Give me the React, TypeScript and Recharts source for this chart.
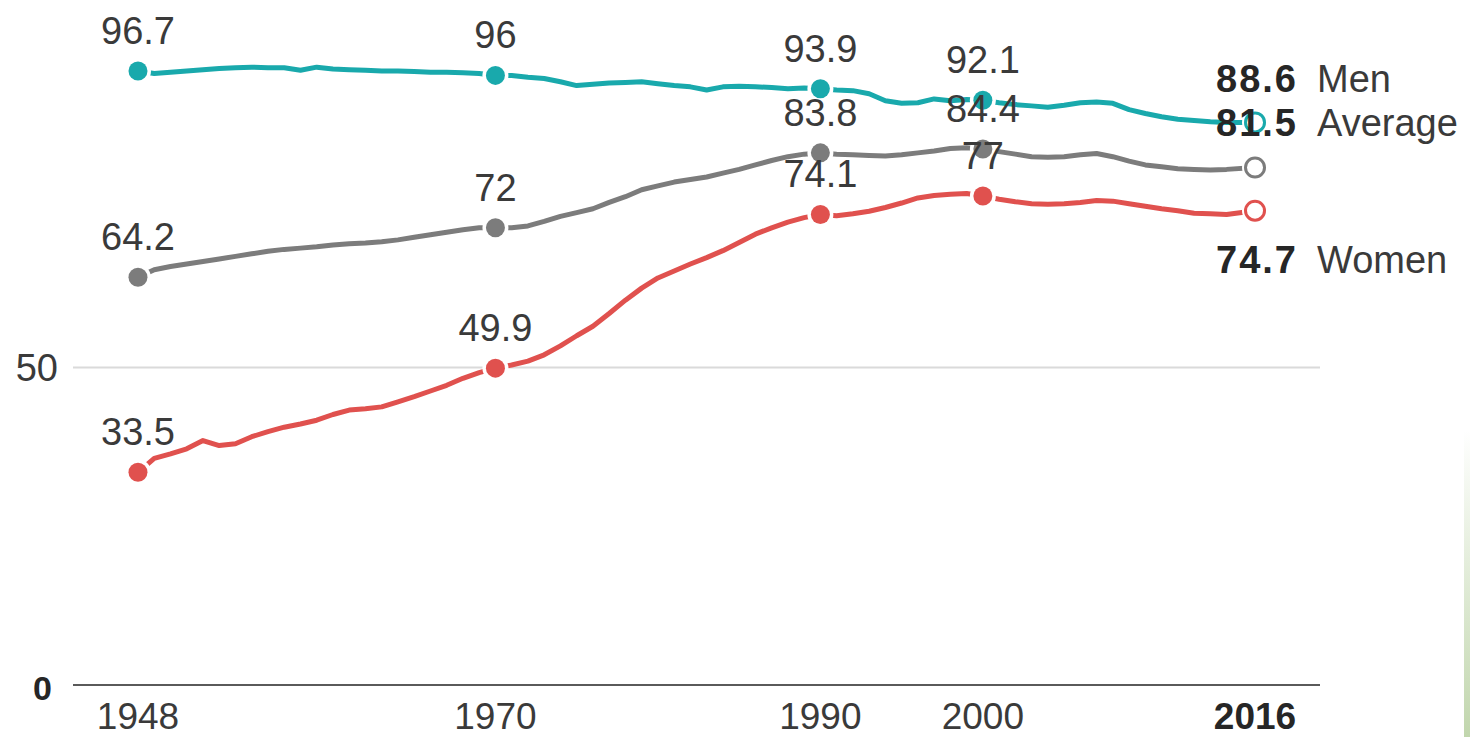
import React from "react";
import { Line, LineChart, ReferenceLine, XAxis, YAxis } from "recharts";

// Share of each group employed, 1948 through the latest month of 2016.
const years = [
  1948, 1949, 1950, 1951, 1952, 1953, 1954, 1955, 1956, 1957,
  1958, 1959, 1960, 1961, 1962, 1963, 1964, 1965, 1966, 1967,
  1968, 1969, 1970, 1971, 1972, 1973, 1974, 1975, 1976, 1977,
  1978, 1979, 1980, 1981, 1982, 1983, 1984, 1985, 1986, 1987,
  1988, 1989, 1990, 1991, 1992, 1993, 1994, 1995, 1996, 1997,
  1998, 1999, 2000, 2001, 2002, 2003, 2004, 2005, 2006, 2007,
  2008, 2009, 2010, 2011, 2012, 2013, 2014, 2015, 2016.75,
];

const men = [
  96.7, 96.3, 96.5, 96.7, 96.9, 97.1, 97.2, 97.3, 97.2, 97.2,
  96.8, 97.3, 97.0, 96.9, 96.8, 96.7, 96.7, 96.6, 96.5, 96.5,
  96.4, 96.3, 96.0, 96.0, 95.7, 95.5, 95.0, 94.4, 94.6, 94.8,
  94.9, 95.0, 94.7, 94.4, 94.2, 93.7, 94.2, 94.3, 94.2, 94.1,
  93.9, 94.0, 93.9, 93.7, 93.6, 93.1, 92.0, 91.6, 91.7, 92.3,
  92.0, 92.2, 92.1, 91.7, 91.4, 91.2, 91.0, 91.3, 91.7, 91.8,
  91.6, 90.6, 90.0, 89.5, 89.1, 88.9, 88.7, 88.6, 88.6,
];

const average = [
  64.2, 65.4, 65.9, 66.3, 66.7, 67.1, 67.5, 67.9, 68.3, 68.6,
  68.8, 69.0, 69.3, 69.5, 69.6, 69.8, 70.1, 70.5, 70.9, 71.3,
  71.7, 72.0, 72.0, 72.0, 72.3, 73.0, 73.8, 74.4, 75.0, 76.0,
  76.9, 78.0, 78.6, 79.2, 79.6, 80.0, 80.6, 81.2, 81.9, 82.6,
  83.2, 83.6, 83.8, 83.6, 83.5, 83.4, 83.3, 83.5, 83.8, 84.1,
  84.5, 84.6, 84.4, 84.0, 83.6, 83.2, 83.1, 83.2, 83.5, 83.7,
  83.2, 82.5, 81.9, 81.6, 81.3, 81.2, 81.1, 81.2, 81.5,
];

const women = [
  33.5, 35.7, 36.4, 37.2, 38.5, 37.7, 38.0, 39.1, 39.9, 40.6,
  41.1, 41.7, 42.6, 43.3, 43.5, 43.8, 44.6, 45.4, 46.3, 47.2,
  48.3, 49.2, 49.9, 50.4, 51.0, 52.0, 53.4, 55.0, 56.5, 58.5,
  60.6, 62.5, 64.1, 65.2, 66.3, 67.3, 68.4, 69.7, 71.0, 72.0,
  72.9, 73.6, 74.1, 73.9, 74.2, 74.6, 75.2, 75.9, 76.7, 77.1,
  77.3, 77.4, 77.0, 76.5, 76.1, 75.8, 75.7, 75.8, 76.0, 76.3,
  76.2, 75.8, 75.4, 75.0, 74.7, 74.3, 74.2, 74.1, 74.7,
];

const markedYears = [1948, 1970, 1990, 2000];
const LAST = years[years.length - 1];
const xTicks = [1948, 1970, 1990, 2000, LAST];
const yTicks = [0, 50];

const data = years.map((year, i) => ({
  year,
  men: men[i],
  average: average[i],
  women: women[i],
}));

const FONT = "'Liberation Sans', Arial, Helvetica, sans-serif";

const series = [
  { key: "men", name: "Men", color: "#19a9ac", endDy: -43 },
  { key: "average", name: "Average", color: "#7c7c7c", endDy: -44 },
  { key: "women", name: "Women", color: "#e0514e", endDy: 49 },
];

type SeriesDef = (typeof series)[number];

// Markers and their value labels are drawn together so each label sits
// above the lines that were drawn before it.
function makeDot(s: SeriesDef) {
  return (props: any) => {
    const { cx, cy, payload, index } = props;
    const key = `${s.key}-dot-${index}`;
    if (cx == null || cy == null) return <g key={key} />;
    const value = payload[s.key];

    if (payload.year === LAST) {
      return (
        <g key={key}>
          <circle cx={cx} cy={cy} r={13} fill="#fff" />
          <circle cx={cx} cy={cy} r={9.5} fill="#fff" stroke={s.color} strokeWidth={3} />
          <text
            x={cx + 43}
            y={cy + s.endDy}
            textAnchor="end"
            dominantBaseline="central"
            fontFamily={FONT}
            fontSize={38}
            fontWeight={700}
            letterSpacing={2}
            fill="#262626"
          >
            {value}
          </text>
          <text
            x={cx + 62}
            y={cy + s.endDy}
            textAnchor="start"
            dominantBaseline="central"
            fontFamily={FONT}
            fontSize={38}
            fill="#3a3a3a"
          >
            {s.name}
          </text>
        </g>
      );
    }

    if (!markedYears.includes(payload.year)) return <g key={key} />;

    return (
      <g key={key}>
        <circle cx={cx} cy={cy} r={13} fill="#fff" />
        <circle cx={cx} cy={cy} r={9.5} fill={s.color} />
        <text
          x={cx}
          y={cy - 40}
          textAnchor="middle"
          dominantBaseline="central"
          fontFamily={FONT}
          fontSize={38}
          fill="#3a3a3a"
        >
          {value}
        </text>
      </g>
    );
  };
}

function XTick(props: any) {
  const { x, y, payload } = props;
  const isLast = payload.value === LAST;
  return (
    <text
      x={x}
      y={y + 31}
      textAnchor="middle"
      dominantBaseline="central"
      fontFamily={FONT}
      fontSize={37}
      fontWeight={isLast ? 700 : 400}
      fill={isLast ? "#262626" : "#3a3a3a"}
    >
      {Math.floor(payload.value)}
    </text>
  );
}

function YTick(props: any) {
  const { x, y, payload } = props;
  const isZero = payload.value === 0;
  return (
    <text
      x={x - (isZero ? 21 : 15)}
      y={y + (isZero ? 3 : 0)}
      textAnchor="end"
      dominantBaseline="central"
      fontFamily={FONT}
      fontSize={isZero ? 34 : 38}
      fontWeight={isZero ? 700 : 400}
      fill={isZero ? "#262626" : "#3a3a3a"}
    >
      {payload.value}
    </text>
  );
}

export default function App() {
  return (
    <div
      style={{
        position: "fixed",
        left: 0,
        top: 0,
        width: 1470,
        height: 737,
        background: "#fff",
        overflow: "hidden",
      }}
    >
      <LineChart
        width={1470}
        height={737}
        data={data}
        margin={{ top: 50, right: 150, bottom: 0, left: 0 }}
      >
        <XAxis
          dataKey="year"
          type="number"
          domain={[1944, 2020.75]}
          ticks={xTicks}
          height={52}
          tickLine={false}
          tickSize={0}
          tickMargin={0}
          axisLine={{ stroke: "#5a5a5a", strokeWidth: 2 }}
          tick={<XTick />}
          interval={0}
        />
        <YAxis
          type="number"
          domain={[0, 100]}
          ticks={yTicks}
          width={73}
          axisLine={false}
          tickLine={false}
          tickSize={0}
          tickMargin={0}
          tick={<YTick />}
          interval={0}
        />
        <ReferenceLine y={50} stroke="#dadada" strokeWidth={2} />
        {series.map((s) => (
          <Line
            key={s.key}
            type="linear"
            dataKey={s.key}
            stroke={s.color}
            strokeWidth={5}
            strokeLinejoin="round"
            dot={makeDot(s)}
            activeDot={false}
            isAnimationActive={false}
          />
        ))}
      </LineChart>
      <div
        style={{
          position: "absolute",
          left: 1464,
          top: 430,
          width: 6,
          height: 307,
          background: "linear-gradient(to bottom, rgba(197,217,176,0), #c1d6ad)",
        }}
      />
    </div>
  );
}
